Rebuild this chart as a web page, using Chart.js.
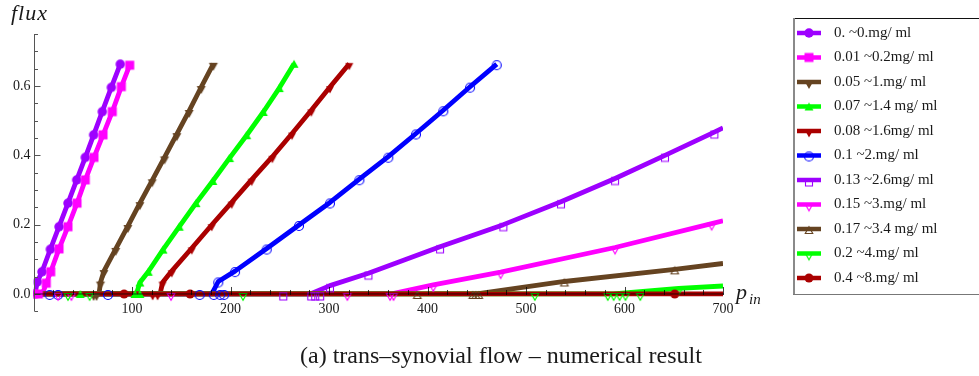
<!DOCTYPE html>
<html>
<head>
<meta charset="utf-8">
<script src="https://cdn.jsdelivr.net/npm/chart.js@4.4.1/dist/chart.umd.min.js"></script>
<style>
  html, body { margin: 0; padding: 0; background: #ffffff; }
  #wrap { width: 979px; height: 376px; position: relative; }
</style>
</head>
<body>
<div id="wrap"><canvas id="c" width="979" height="376"></canvas></div>
<script>
// Hyaluronan concentration of each curve
const seriesLabels = [
  '0. ~0.mg/ ml', '0.01 ~0.2mg/ ml', '0.05 ~1.mg/ ml', '0.07 ~1.4 mg/ ml',
  '0.08 ~1.6mg/ ml', '0.1 ~2.mg/ ml', '0.13 ~2.6mg/ ml', '0.15 ~3.mg/ ml',
  '0.17 ~3.4 mg/ ml', '0.2 ~4.mg/ ml', '0.4 ~8.mg/ ml'
];

// pressure at which the flux starts to rise (null: stays at zero)
const onsetP = [1.5, 9, 66.5, 104.5, 128.5, 181, 281, 363.7, 450, 588.6, null];

// rising branch: inlet pressure p_in
const riseP = [
  [3.9, 8.6, 17.1, 25.9, 35, 43.9, 52.6, 61.1, 69.8, 79, 88.1],
  [13, 17.5, 25.9, 35, 44.2, 52.6, 61.4, 70.6, 80, 89.2, 97.7],
  [68, 71.5, 83.5, 95.8, 108, 120.5, 133, 145.5, 158, 170.3, 182.6],
  [108, 116.5, 131.5, 148, 165, 182, 199, 216.4, 233.3, 249.5, 264.5],
  [131, 140.3, 160.6, 180.9, 201.2, 221.5, 242.5, 262.5, 282, 301, 320.6],
  [187.6, 204.6, 236.8, 269.5, 301, 330.8, 360.2, 388.3, 416, 443.2, 470.3],
  [301, 340, 412.7, 477, 535.5, 590.4, 641.1, 691.2],
  [405.9, 474.3, 590.4, 688.5],
  [539, 651],
  [655],
  []
];

// rising branch: flux
const riseFlux = [
  [0.035, 0.064, 0.129, 0.194, 0.262, 0.329, 0.394, 0.459, 0.526, 0.596, 0.663],
  [0.031, 0.064, 0.130, 0.194, 0.262, 0.329, 0.394, 0.459, 0.526, 0.598, 0.660],
  [0.033, 0.066, 0.130, 0.196, 0.262, 0.328, 0.394, 0.461, 0.528, 0.597, 0.664],
  [0.033, 0.064, 0.128, 0.194, 0.262, 0.326, 0.392, 0.458, 0.525, 0.594, 0.664],
  [0.033, 0.066, 0.132, 0.199, 0.264, 0.330, 0.396, 0.463, 0.530, 0.597, 0.664],
  [0.036, 0.066, 0.131, 0.199, 0.264, 0.331, 0.396, 0.463, 0.530, 0.598, 0.663],
  [0.024, 0.060, 0.136, 0.200, 0.266, 0.333, 0.400, 0.467],
  [0.026, 0.063, 0.134, 0.203],
  [0.036, 0.071],
  [0.016],
  []
];

// flux of the branches that run past the end of the p_in axis (at p_in = 700)
const fluxAt700 = [null, null, null, null, null, null, 0.479, 0.211, 0.088, 0.023, 0];

// sampled pressures where the computed flux is still zero
const zeroP = [
  [0.5],
  [0, 5],
  [61, 64],
  [47.5, 103, 108],
  [121, 126],
  [16.4, 24.9, 75.6, 168.7, 183, 189.5, 193.5],
  [253.6, 282, 286, 291],
  [25, 38.5, 139.6, 318.6, 362, 365.5],
  [389.6, 446, 449, 452],
  [35, 57, 212.7, 509, 583, 589, 595, 601, 616],
  [92, 159, 651]
];

// axis ticks
const xTickValues = [100, 200, 300, 400, 500, 600, 700];
const yTickValues = [0, 0.2, 0.4, 0.6];

// ---- styling ----
const colors = ['#9d00ff', '#ff00ff', '#654321', '#00ff00', '#aa0000', '#0000ff',
                '#9d00ff', '#ff00ff', '#654321', '#00ff00', '#aa0000'];
const markerSpec = [
  {shape: 'circle', filled: true,  size: 9.5, dy: 0},
  {shape: 'square', filled: true,  size: 9,   dy: 0},
  {shape: 'down',   filled: true,  size: 9,   dy: 2.5},
  {shape: 'up',     filled: true,  size: 9,   dy: 0.5},
  {shape: 'down',   filled: true,  size: 8,   dy: 2.5},
  {shape: 'circle', filled: false, size: 9,   dy: 1},
  {shape: 'square', filled: false, size: 7,   dy: 2.5},
  {shape: 'down',   filled: false, size: 7.5, dy: 2.5},
  {shape: 'up',     filled: false, size: 7.5, dy: 1.5},
  {shape: 'down',   filled: false, size: 7.5, dy: 2.5},
  {shape: 'circle', filled: true,  size: 9,   dy: 0}
];
const SERIF = '"Liberation Serif", "Times New Roman", serif';

function makeMarker(spec, color) {
  const c = document.createElement('canvas');
  c.width = 24; c.height = 24;
  const g = c.getContext('2d');
  const cx = 12, cy = 12 + spec.dy, r = spec.size / 2;
  g.beginPath();
  if (spec.shape === 'circle') {
    g.arc(cx, cy, r, 0, Math.PI * 2);
  } else if (spec.shape === 'square') {
    g.rect(cx - r, cy - r, spec.size, spec.size);
  } else if (spec.shape === 'up') {
    g.moveTo(cx, cy - r); g.lineTo(cx + r, cy + r * 0.8); g.lineTo(cx - r, cy + r * 0.8); g.closePath();
  } else {
    g.moveTo(cx - r, cy - r * 0.8); g.lineTo(cx + r, cy - r * 0.8); g.lineTo(cx, cy + r); g.closePath();
  }
  if (spec.filled) { g.fillStyle = color; g.fill(); }
  else { g.strokeStyle = color; g.lineWidth = 1.1; g.stroke(); }
  return c;
}
const markerImgs = markerSpec.map((s, i) => makeMarker(s, colors[i]));

// ---- datasets ----
const datasets = [];
seriesLabels.forEach((label, i) => {
  // curve: zero branch up to the onset, then the rising branch
  const curve = [{x: 0, y: 0}];
  if (onsetP[i] !== null) curve.push({x: onsetP[i], y: 0});
  riseP[i].forEach((p, k) => curve.push({x: p, y: riseFlux[i][k]}));
  if (fluxAt700[i] !== null) curve.push({x: 700, y: fluxAt700[i]});
  datasets.push({
    type: 'line', label: label, data: curve,
    borderColor: colors[i], borderWidth: 4.8, pointRadius: 0, tension: 0,
    borderJoinStyle: 'round', fill: false, order: 30 - i * 0.5
  });
});
seriesLabels.forEach((label, i) => {
  const pts = zeroP[i].map(p => ({x: p, y: 0}))
    .concat(riseP[i].map((p, k) => ({x: p, y: riseFlux[i][k]})));
  datasets.push({
    type: 'scatter', label: label + ' points', data: pts, showLine: false,
    pointStyle: markerImgs[i], pointRadius: 5, borderColor: colors[i],
    backgroundColor: colors[i], order: 10 - i
  });
});

// ---- axes drawn through the chart's scales, with ticks pointing inward ----
const axesPlugin = {
  id: 'axesLines',
  afterDatasetsDraw(chart) {
    const {ctx, scales: {x, y}} = chart;
    const x0 = Math.round(x.getPixelForValue(0)) + 0.5;
    const y0 = y.getPixelForValue(0);
    ctx.save();
    // vertical axis
    ctx.strokeStyle = '#555555';
    ctx.lineWidth = 1;
    ctx.beginPath();
    ctx.moveTo(x0, y.getPixelForValue(y.max));
    ctx.lineTo(x0, y.getPixelForValue(y.min));
    for (let k = 0; k <= 16; k++) {
      const v = -0.05 + k * 0.05;
      const py = Math.round(y.getPixelForValue(v)) + 0.5;
      const major = Math.abs(v / 0.2 - Math.round(v / 0.2)) < 1e-6;
      ctx.moveTo(x0, py);
      ctx.lineTo(x0 + (major ? 6 : 3.5), py);
    }
    ctx.stroke();
    // horizontal axis at flux = 0
    ctx.strokeStyle = 'rgba(0,0,0,0.75)';
    ctx.beginPath();
    ctx.moveTo(x0, y0);
    ctx.lineTo(x.getPixelForValue(700) + 1, y0);
    for (let v = 20; v <= 700; v += 20) {
      const px = Math.round(x.getPixelForValue(v)) + 0.5;
      const major = v % 100 === 0;
      ctx.moveTo(px, y0 + 1);
      ctx.lineTo(px, y0 - (major ? 7 : 4));
    }
    ctx.stroke();
    ctx.restore();
  }
};

// ---- axis titles, caption and framed legend ----
const textPlugin = {
  id: 'titlesAndLegend',
  afterDraw(chart) {
    const {ctx} = chart;
    ctx.save();
    ctx.fillStyle = '#1a1a1a';
    ctx.textBaseline = 'alphabetic';
    ctx.textAlign = 'left';
    ctx.font = 'italic 22px ' + SERIF;
    ctx.letterSpacing = '1px';
    ctx.fillText('flux', 11, 20);
    ctx.letterSpacing = '0px';
    ctx.fillText('p', 736, 299);
    ctx.font = 'italic 15px ' + SERIF;
    ctx.fillText('in', 749, 304);

    ctx.textAlign = 'center';
    ctx.font = '24px ' + SERIF;
    ctx.fillText('(a) trans\u2013synovial flow \u2013 numerical result', 501, 363);

    // legend frame
    const lx = 793, top = 18, bottom = 294;
    ctx.strokeStyle = '#111111';
    ctx.lineWidth = 1;
    ctx.beginPath();
    ctx.moveTo(lx, top + 0.5); ctx.lineTo(979, top + 0.5);
    ctx.stroke();
    ctx.strokeStyle = '#8a8a8a';
    ctx.lineWidth = 2;
    ctx.beginPath();
    ctx.moveTo(lx + 1, top); ctx.lineTo(lx + 1, bottom);
    ctx.stroke();
    ctx.lineWidth = 1;
    ctx.strokeStyle = '#777777';
    ctx.beginPath();
    ctx.moveTo(lx, bottom + 0.5); ctx.lineTo(979, bottom + 0.5);
    ctx.stroke();

    ctx.textAlign = 'left';
    ctx.textBaseline = 'middle';
    ctx.font = '15px ' + SERIF;
    seriesLabels.forEach((label, i) => {
      const yy = 33 + i * 24.5;
      ctx.strokeStyle = colors[i];
      ctx.lineWidth = 4.5;
      ctx.beginPath();
      ctx.moveTo(797, yy); ctx.lineTo(821, yy);
      ctx.stroke();
      ctx.drawImage(markerImgs[i], 809 - 12, yy - 12);
      ctx.fillStyle = '#1a1a1a';
      ctx.fillText(label, 834, yy);
    });
    ctx.restore();
  }
};

new Chart(document.getElementById('c'), {
  type: 'scatter',
  data: {datasets},
  options: {
    responsive: false,
    devicePixelRatio: 1,
    animation: false,
    events: [],
    layout: {padding: {left: 0, right: 256, top: 34, bottom: 64.7}},
    plugins: {legend: {display: false}, tooltip: {enabled: false}},
    scales: {
      x: {
        type: 'linear', min: 0, max: 700,
        position: {y: 0},
        grid: {display: false, drawTicks: false}, border: {display: false},
        afterBuildTicks: s => { s.ticks = xTickValues.map(v => ({value: v})); },
        ticks: {
          padding: 7, maxRotation: 0, autoSkip: false,
          color: '#1a1a1a', font: {family: SERIF, size: 14},
          callback: v => String(v)
        }
      },
      y: {
        type: 'linear', min: -0.05, max: 0.75,
        grid: {display: false, drawTicks: false}, border: {display: false},
        afterFit: s => { s.width = 33.5; },
        afterBuildTicks: s => { s.ticks = yTickValues.map(v => ({value: v})); },
        ticks: {
          padding: 3, autoSkip: false,
          color: '#1a1a1a', font: {family: SERIF, size: 14},
          callback: v => Number(v).toFixed(1)
        }
      }
    }
  },
  plugins: [axesPlugin, textPlugin]
});
</script>
</body>
</html>
